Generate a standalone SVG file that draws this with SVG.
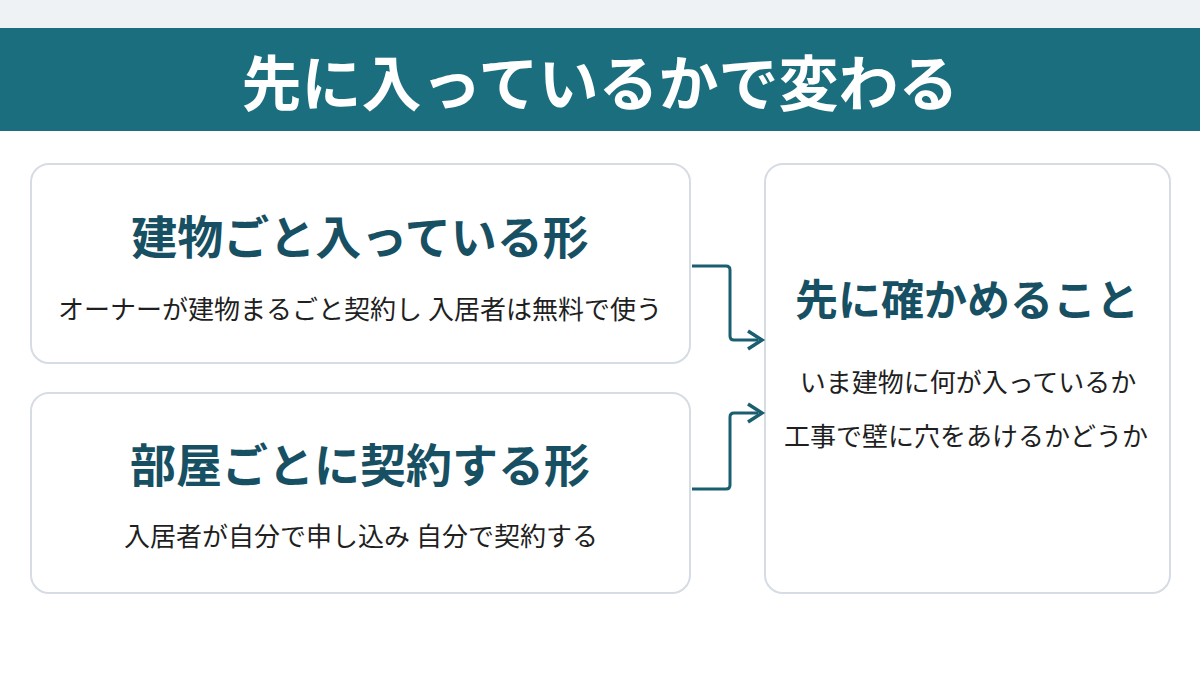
<svg xmlns="http://www.w3.org/2000/svg" width="1200" height="675" viewBox="0 0 1200 675">
<defs>
<style>
.box{fill:#ffffff;stroke:#d6dce3;stroke-width:2}
.h{font-family:"Noto Sans CJK JP","Noto Sans",sans-serif;font-weight:700;fill:#174f63;text-anchor:middle}
.s{font-family:"Noto Sans CJK JP","Noto Sans",sans-serif;font-weight:400;fill:#1f1f1f;font-size:26px;text-anchor:middle}
.c{fill:none;stroke:#1a5f70;stroke-width:3;stroke-linejoin:round}
.ah{fill:none;stroke:#1a5f70;stroke-width:3.5;stroke-linejoin:miter}
</style>
</defs>
<rect x="0" y="0" width="1200" height="675" fill="#ffffff"/>
<rect x="0" y="0" width="1200" height="28" fill="#eef2f5"/>
<g id="title">
<rect x="0" y="28" width="1200" height="103" fill="#1b6e7d"/>
<text x="600" y="106" font-family="Noto Sans CJK JP,Noto Sans,sans-serif" font-weight="700" font-size="60" fill="#ffffff" text-anchor="middle">先に入っているかで変わる</text>
</g>
<g id="node-building">
<rect class="box" x="31" y="164" width="659" height="199" rx="18"/>
<text class="h" x="360" y="254" font-size="46">建物ごと入っている形</text>
<text class="s" x="360" y="319">オーナーが建物まるごと契約し 入居者は無料で使う</text>
</g>
<g id="node-room">
<rect class="box" x="31" y="393" width="659" height="200" rx="18"/>
<text class="h" x="360" y="482" font-size="46">部屋ごとに契約する形</text>
<text class="s" x="361" y="546">入居者が自分で申し込み 自分で契約する</text>
</g>
<g id="node-check">
<rect class="box" x="765" y="164" width="405" height="429" rx="18"/>
<text class="h" x="967" y="316" font-size="43">先に確かめること</text>
<text class="s" x="968" y="392">いま建物に何が入っているか</text>
<text class="s" x="966" y="446">工事で壁に穴をあけるかどうか</text>
</g>
<g id="connectors">
<path class="c" d="M692,266 H726 Q730,266 730,270 V336 Q730,340 734,340 H758"/>
<path class="c" d="M692,489 H726 Q730,489 730,485 V417 Q730,413 734,413 H758"/>
<path class="ah" d="M748,331 L762,340 L748,349"/>
<path class="ah" d="M748,404 L762,413 L748,422"/>
</g>
</svg>
